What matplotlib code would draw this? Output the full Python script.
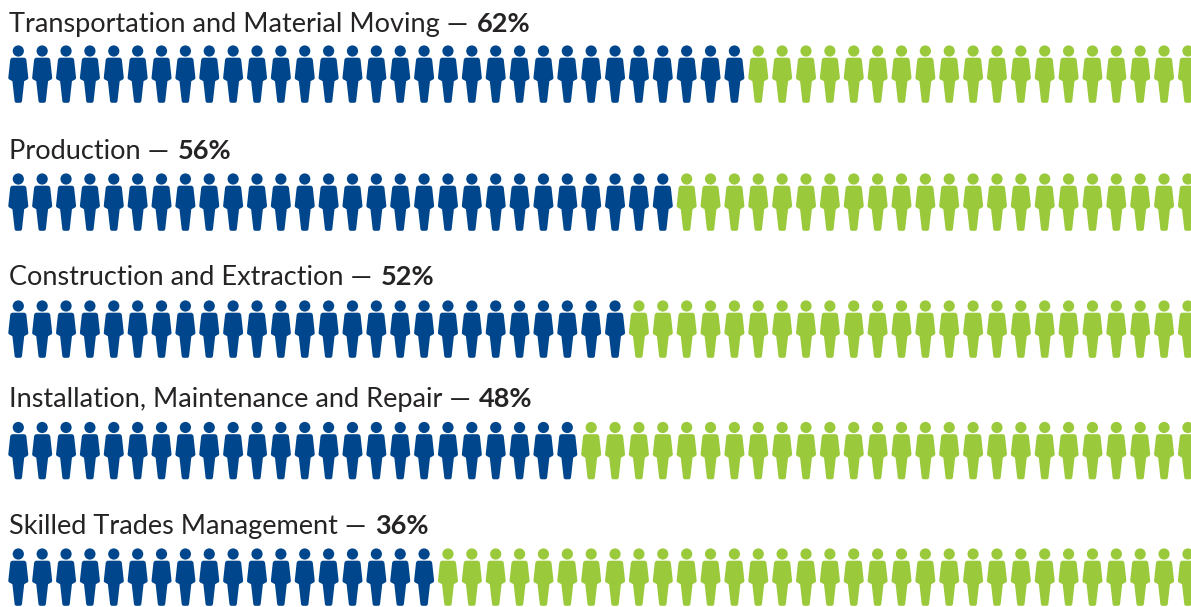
"""
plot.py - Share of workers by occupation, drawn as rows of 50 person icons.
"""

import matplotlib
matplotlib.use("Agg")
import matplotlib.pyplot as plt
from matplotlib.patches import PathPatch
from matplotlib.path import Path
from matplotlib.transforms import Affine2D

OUT_PNG = "out.png"

occupations = [
    "Transportation and Material Moving",
    "Production",
    "Construction and Extraction",
    "Installation, Maintenance and Repair",
    "Skilled Trades Management",
]
percents = [62, 56, 52, 48, 36]

ICONS_PER_ROW = 50
PER_ICON = 100 / ICONS_PER_ROW
BLUE = "#00468c"
GREEN = "#9aca3c"
TEXT = "#262324"

W, H = 1191, 607
X0, DX = 18.3, 23.87
ROW_HEAD_Y = [51, 179, 306, 427.5, 554]
BASELINE_Y = [32, 159, 285, 407, 534]
FONT_SIZE = 19.5


def person_path():
    # outline around (0, 0) = head centre, y down, in pixels
    M, L, Q, C = Path.MOVETO, Path.LINETO, Path.CURVE3, Path.CLOSEPOLY
    body = [
        (M, (-5.6, 6.7)),
        (L, (5.6, 6.7)),
        (Q, (7.8, 6.7)), (Q, (8.1, 9.0)),
        (L, (10.0, 26.6)),
        (Q, (10.2, 28.4)), (Q, (8.2, 28.9)),
        (L, (5.9, 30.2)),
        (L, (3.7, 50.0)),
        (Q, (3.4, 51.8)), (Q, (1.8, 51.8)),
        (L, (-1.8, 51.8)),
        (Q, (-3.4, 51.8)), (Q, (-3.7, 50.0)),
        (L, (-5.9, 30.2)),
        (L, (-8.2, 28.9)),
        (Q, (-10.2, 28.4)), (Q, (-10.0, 26.6)),
        (L, (-8.1, 9.0)),
        (Q, (-7.8, 6.7)), (Q, (-5.6, 6.7)),
        (C, (0, 0)),
    ]
    codes = [c for c, _ in body]
    verts = [v for _, v in body]
    head = Path.circle((0, 0), 5.6)
    return Path.make_compound_path(Path(verts, codes), head)


def main():
    plt.rcParams["font.family"] = ["Lato", "DejaVu Sans"]
    fig = plt.figure(figsize=(W / 100, H / 100), dpi=100)
    ax = fig.add_axes([0, 0, 1, 1])
    ax.set_xlim(0, W)
    ax.set_ylim(H, 0)
    ax.axis("off")

    icon = person_path()
    for r, (name, pct) in enumerate(zip(occupations, percents)):
        label = ax.text(9, BASELINE_Y[r], f"{name} \u2014 ", fontsize=FONT_SIZE,
                        color=TEXT, va="baseline", ha="left")
        # percent sits right after the label, on the same baseline
        ax.annotate(f"{pct}%", xy=(1, BASELINE_Y[r]), xycoords=(label, "data"),
                    xytext=(1, 0), textcoords="offset points",
                    va="baseline", ha="left",
                    fontsize=FONT_SIZE, fontweight="bold", color=TEXT)
        n_blue = pct / PER_ICON
        for i in range(ICONS_PER_ROW):
            tr = Affine2D().translate(X0 + i * DX, ROW_HEAD_Y[r]) + ax.transData
            ax.add_patch(PathPatch(icon, transform=tr, lw=0,
                                   facecolor=BLUE if i < n_blue else GREEN))

    fig.savefig(OUT_PNG, dpi=100, facecolor="white")


if __name__ == "__main__":
    main()
